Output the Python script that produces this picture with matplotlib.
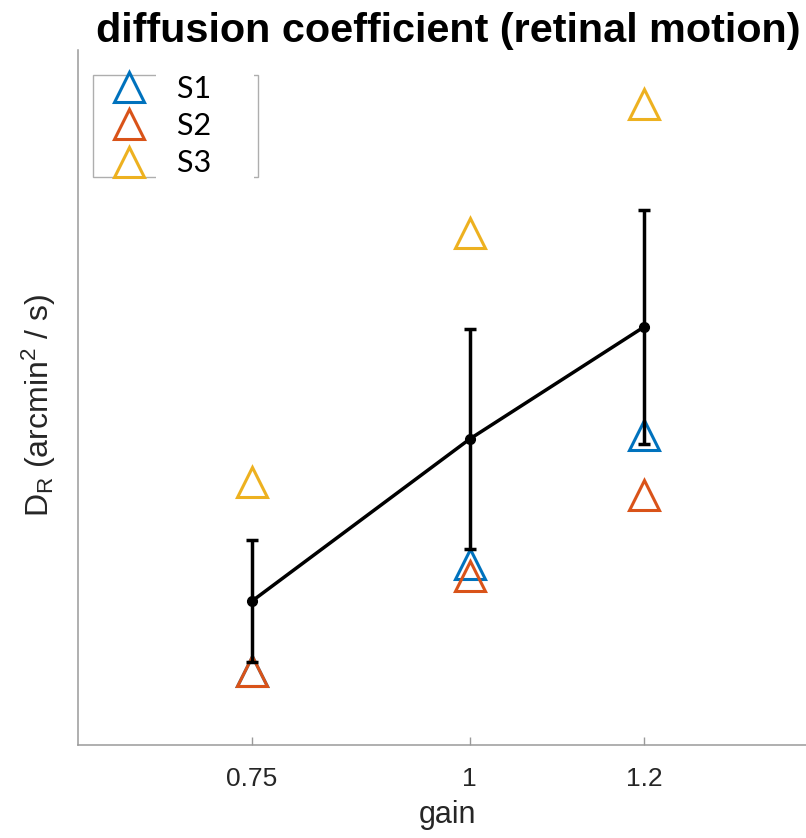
import matplotlib
matplotlib.use("Agg")
import matplotlib.pyplot as plt
from matplotlib import font_manager
from matplotlib.lines import Line2D
from matplotlib.path import Path

# ---- data (arbitrary units, y axis unlabeled) ----
gains = [0.75, 1.0, 1.2]
gain_labels = ["0.75", "1", "1.2"]
mean_D = [1.44, 3.06, 4.18]
err_D = [0.61, 1.10, 1.17]
S1 = [0.74, 1.81, 3.10]
S2 = [0.74, 1.69, 2.50]
S3 = [2.63, 5.12, 6.41]
subjects = ["S1", "S2", "S3"]
colors = ["#0072BD", "#D95319", "#EDB120"]

names = {f.name for f in font_manager.fontManager.ttflist}
title_font = "Liberation Sans Narrow" if "Liberation Sans Narrow" in names else "Liberation Sans"
plt.rcParams["font.family"] = ["Liberation Sans", "DejaVu Sans"]
plt.rcParams["mathtext.default"] = "regular"

fig = plt.figure(figsize=(8.06, 8.38), dpi=100)
ax = fig.add_axes([78/806, 93/838, 740/806, 695/838])

MS = 21
MEW = 2.2
for vals, c in zip([S1, S2, S3], colors):
    ax.plot(gains, vals, linestyle="none", marker="^", markersize=MS,
            markerfacecolor="none", markeredgecolor=c, markeredgewidth=MEW, zorder=2)

ax.errorbar(gains, mean_D, yerr=err_D, color="black", lw=2.5, marker="o", ms=7,
            capsize=4.5, capthick=2.5, zorder=3)

ax.set_xlim(0.55, 1.4)
ax.set_ylim(0, 6.95)
ax.set_xticks(gains)
ax.set_xticklabels(gain_labels)
ax.set_yticks([])
for s in ["top", "right"]:
    ax.spines[s].set_visible(False)
for s in ["left", "bottom"]:
    ax.spines[s].set_color("#9a9a9a")
    ax.spines[s].set_linewidth(1.1)
ax.tick_params(axis="x", direction="in", length=6, width=1, color="#9a9a9a",
               labelsize=19, labelcolor="#262626", pad=16)

ax.set_xlabel("gain", fontsize=22, color="#262626", labelpad=6)
ax.set_ylabel("$D_R$ (arcmin$^2$ / s)", fontsize=23, color="#262626")
ax.yaxis.set_label_coords(-0.027, 0.488)
fig.text(448/806, 1 - 31/838, "diffusion coefficient (retinal motion)", ha="center", va="center",
         fontsize=29.8, fontweight="bold", family=title_font)


# white label backgrounds that extend further to the left and above/below (like the reference)
def label_box(x0, y0, width, height, mutation_size, lpad=21, rpad=-4, vpad=9):
    xa, xb = x0 - lpad, x0 + width + rpad
    ya, yb = y0 - vpad, y0 + height + vpad
    return Path([(xa, ya), (xb, ya), (xb, yb), (xa, yb), (xa, ya)], closed=True)


handles = [Line2D([], [], linestyle="none", marker="^", markersize=MS, markerfacecolor="none",
                  markeredgecolor=c, markeredgewidth=MEW) for c in colors]
leg = ax.legend(handles, [s + "      " for s in subjects], loc="upper left",
                bbox_to_anchor=(15/740, 670/695), borderaxespad=0, frameon=True, fancybox=False,
                prop={"family": "Lato", "size": 22}, handlelength=2.35, handletextpad=0.4,
                labelspacing=0.3, borderpad=0.0)
leg.get_frame().set_edgecolor("#9a9a9a")
leg.get_frame().set_linewidth(1.0)
for t in leg.get_texts():
    t.set_bbox(dict(boxstyle=label_box, facecolor="white", edgecolor="none"))

fig.savefig("out.png", dpi=100)
